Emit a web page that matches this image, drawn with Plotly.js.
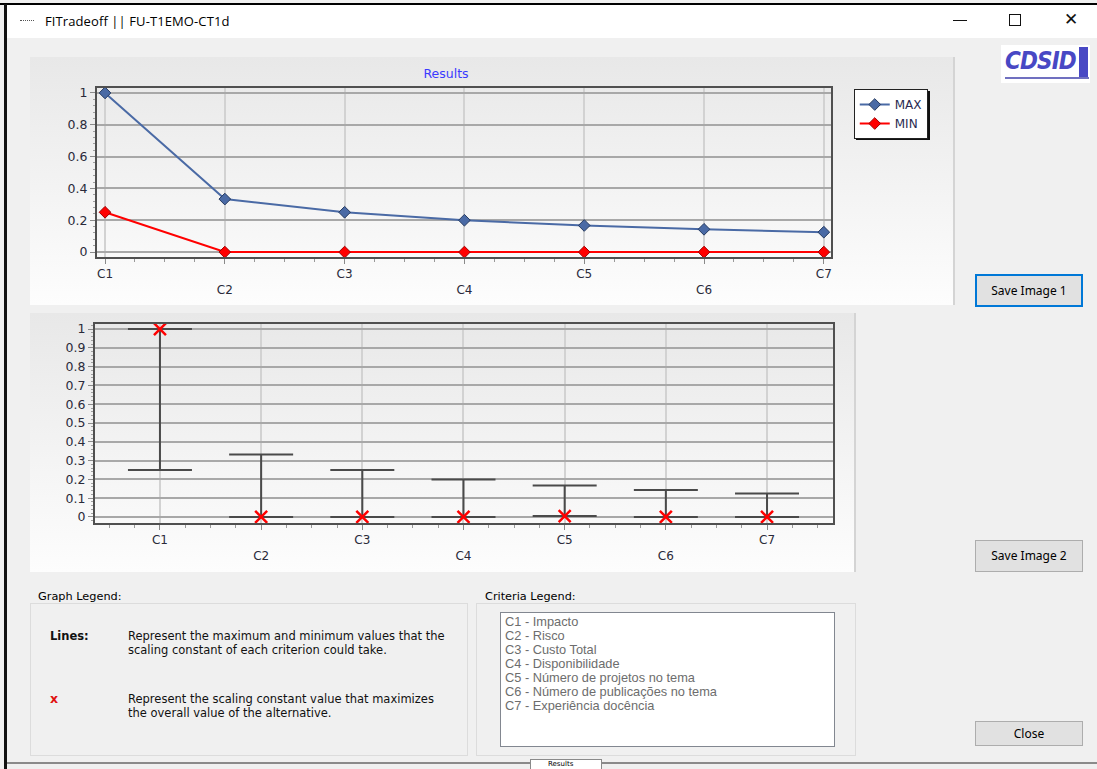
<!DOCTYPE html>
<html>
<head>
<meta charset="utf-8">
<script src="https://cdn.plot.ly/plotly-3.0.1.min.js"></script>
<style>
  html, body { margin:0; padding:0; width:1097px; height:769px; overflow:hidden; background:#fff; }
  #win { position:absolute; left:0; top:0; width:1097px; height:769px; background:#f0f0f0; }
  .abs { position:absolute; }
  #topline { left:0; top:3px; width:1097px; height:2px; background:#000; }
  #leftline { left:4px; top:4px; width:3px; height:765px; background:#111; }
  #titlebar { left:7px; top:5px; width:1090px; height:33px; background:#fff; }
  #titletext { left:45px; top:12px; font-family:"Open Sans", "Noto Sans", sans-serif; font-size:13px; color:#000; letter-spacing:0.1px; }
  #icon { left:20px; top:20px; width:14px; border-top:1px dotted #555; }
  .wbtn { font-family:"DejaVu Sans", sans-serif; color:#111; }
  #panel1 { left:30px; top:57px; width:923px; height:248px; background:linear-gradient(#e8e8e8, #fdfdfd); border-right:2px solid #d4d4d4; }
  #panel2 { left:30px; top:313px; width:824px; height:259px; background:linear-gradient(#e8e8e8, #fdfdfd); border-right:2px solid #d4d4d4; }
  .btn { position:absolute; left:975px; width:108px; background:#e1e1e1; border:1px solid #adadad; font-family:"Noto Sans", sans-serif; font-size:12px; color:#000; text-align:center; box-sizing:border-box; }
  .group { position:absolute; border:1px solid #dcdcdc; box-sizing:border-box; }
  .glabel { position:absolute; background:#f0f0f0; font-family:"DejaVu Sans", sans-serif; font-size:11.3px; color:#000; padding:0 1px; }
  .ltext { position:absolute; font-family:"DejaVu Sans", sans-serif; font-size:11.5px; color:#111; line-height:14px; }
  #list { left:500px; top:612px; width:335px; height:135px; background:#fff; border:1px solid #828790; box-sizing:border-box; }
  #list div { font-family:"Liberation Sans", sans-serif; font-size:12.8px; color:#6d6d6d; line-height:14px; padding-left:4px; white-space:nowrap; }
</style>
</head>
<body>
<div id="win">
  <div class="abs" id="topline"></div>
  <div class="abs" id="titlebar"></div>
  <div class="abs" id="leftline"></div>
  <div class="abs" id="icon"></div>
  <div class="abs" id="titletext">FITradeoff || FU-T1EMO-CT1d</div>
  <div class="abs wbtn" style="left:953px;top:20px;width:14px;height:1px;background:#111;"></div>
  <div class="abs" style="left:1009px;top:14px;width:10px;height:10px;border:1px solid #111;"></div>
  <div class="abs wbtn" style="left:1064px;top:9px;font-size:17px;">✕</div>

  <div class="abs" style="left:1001px;top:45px;width:89px;height:38px;background:#fff;"></div>
  <div class="abs" style="left:1005px;top:47px;font-family:'DejaVu Sans',sans-serif;font-weight:bold;font-style:italic;font-size:24px;letter-spacing:-1px;color:#4848c4;transform:scaleX(0.9);transform-origin:left;">CDSID</div>
  <div class="abs" style="left:1079px;top:47px;width:9px;height:30px;background:#4848c4;"></div>
  <div class="abs" style="left:1005px;top:77px;width:84px;height:2px;background:#7070c0;"></div>

  <div class="abs" id="panel1">
    <div class="abs" style="left:826px;top:34px;width:74px;height:49px;background:#111;"></div>
    <div id="chart1" class="abs" style="left:0;top:0;width:923px;height:248px;"></div>
  </div>
  <div class="abs" id="panel2"><div id="chart2" style="width:824px;height:259px;"></div></div>

  <div class="btn" style="top:274px;height:33px;line-height:29px;border:2px solid #0078d7;">Save Image 1</div>
  <div class="btn" style="top:540px;height:32px;line-height:30px;">Save Image 2</div>
  <div class="btn" style="top:721px;height:25px;line-height:23px;">Close</div>

  <div class="group" style="left:30px;top:603px;width:438px;height:153px;"></div>
  <div class="glabel" style="left:37px;top:590px;">Graph Legend:</div>
  <div class="ltext" style="left:50px;top:629px;font-weight:bold;">Lines:</div>
  <div class="ltext" style="left:128px;top:629px;">Represent the maximum and minimum values that the<br>scaling constant of each criterion could take.</div>
  <div class="ltext" style="left:50px;top:692px;font-weight:bold;color:#e01010;font-size:12.5px;">x</div>
  <div class="ltext" style="left:128px;top:692px;">Represent the scaling constant value that maximizes<br>the overall value of the alternative.</div>

  <div class="group" style="left:476px;top:603px;width:380px;height:153px;"></div>
  <div class="glabel" style="left:484px;top:590px;">Criteria Legend:</div>
  <div class="abs" id="list"></div>

  <div class="abs" style="left:7px;top:762px;width:1090px;height:2px;background:#8a8a8a;"></div>
  <div class="abs" style="left:530px;top:759px;width:70px;height:12px;background:#fff;border:1px solid #8a8a8a;border-bottom:none;"></div>
  <div class="abs" style="left:548px;top:760px;font-family:'DejaVu Sans',sans-serif;font-size:7px;line-height:8px;">Results</div>
</div>

<script>
// ---- data ----
const categories = ['C1', 'C2', 'C3', 'C4', 'C5', 'C6', 'C7'];
const criteriaNames = ['Impacto', 'Risco', 'Custo Total', 'Disponibilidade',
  'Número de projetos no tema', 'Número de publicações no tema', 'Experiência docência'];
const maxValues = [1, 0.333, 0.25, 0.2, 0.167, 0.143, 0.125];
const minValues = [0.25, 0, 0, 0, 0, 0, 0];
const rangeMax = [1, 0.333, 0.25, 0.2, 0.167, 0.143, 0.125];
const rangeMin = [0.25, 0, 0, 0, 0.005, 0, 0];
const bestValues = [1, 0, 0, 0, 0.005, 0, 0];
const yTicksTop = [0, 0.2, 0.4, 0.6, 0.8, 1];
const yTicksBottom = [0, 0.1, 0.2, 0.3, 0.4, 0.5, 0.6, 0.7, 0.8, 0.9, 1];

// criteria list
const list = document.getElementById('list');
list.style.paddingTop = '2px';
categories.forEach((c, i) => {
  const d = document.createElement('div');
  d.textContent = c + ' - ' + criteriaNames[i];
  list.appendChild(d);
});

const idx = categories.map((c, i) => i);
const tickText = categories.map((c, i) => (i % 2 ? '<br>' + c : c));
const FONT = 'DejaVu Sans, Verdana, sans-serif';

function xaxis(range) {
  return {
    range: range, tickmode: 'array', tickvals: idx, ticktext: tickText,
    showgrid: true, gridcolor: '#d2d2d2', gridwidth: 2, zeroline: false,
    ticks: 'outside', ticklen: 5, tickcolor: '#8a8a8a', tickwidth: 1,
    minor: { dtick: 0.25, ticks: 'outside', ticklen: 3, tickcolor: '#9a9a9a', showgrid: false },
    showline: true, linecolor: '#505050', linewidth: 2, mirror: true,
    tickfont: { family: FONT, size: 12, color: '#2a2a3a' }, fixedrange: true
  };
}
function yaxis(range, vals, minorStep) {
  return {
    range: range, tickmode: 'array', tickvals: vals, ticktext: vals.map(v => String(v)),
    showgrid: true, gridcolor: '#a8a8a8', gridwidth: 2, zeroline: false,
    ticks: 'outside', ticklen: 5, tickcolor: '#8a8a8a', tickwidth: 1,
    minor: { dtick: minorStep, ticks: 'outside', ticklen: 2, tickcolor: '#a0a0a0', showgrid: false },
    showline: true, linecolor: '#505050', linewidth: 2, mirror: true,
    tickfont: { family: FONT, size: 12.5, color: '#2a2a3a' }, fixedrange: true
  };
}

// ---- chart 1 ----
const t1 = [
  { x: idx, y: maxValues, name: 'MAX', type: 'scatter', mode: 'lines+markers', cliponaxis: false,
    line: { color: '#4a6aa5', width: 2 },
    marker: { symbol: 'diamond', size: 9, color: '#4a6aa5', line: { color: '#253a60', width: 1 } } },
  { x: idx, y: minValues, name: 'MIN', type: 'scatter', mode: 'lines+markers', cliponaxis: false,
    line: { color: '#ff0000', width: 2 },
    marker: { symbol: 'diamond', size: 9, color: '#ff0000', line: { color: '#a00000', width: 1 } } }
];
const l1 = {
  width: 923, height: 248,
  margin: { l: 67, r: 122, t: 31, b: 48 },
  paper_bgcolor: 'rgba(0,0,0,0)', plot_bgcolor: 'rgba(0,0,0,0)',
  title: { text: 'Results', x: 416 / 923, xanchor: 'center', y: 1 - 17 / 248, yanchor: 'middle',
    font: { family: FONT, size: 12.5, color: '#3a3aff' } },
  xaxis: xaxis([-0.067, 6.06]),
  yaxis: yaxis([-0.031, 1.031], yTicksTop, 0.04),
  showlegend: true,
  legend: { x: 1.031, xanchor: 'left', y: 0.994, yanchor: 'top', bgcolor: '#ffffff',
    bordercolor: '#222', borderwidth: 1, itemwidth: 30, tracegroupgap: 0,
    font: { family: FONT, size: 12, color: '#2a2a50' } }
};
Plotly.newPlot('chart1', t1, l1, { staticPlot: true, displayModeBar: false });

// ---- chart 2 ----
const t2 = [
  { x: idx, y: bestValues, type: 'scatter', mode: 'markers', cliponaxis: false, showlegend: false,
    error_y: { type: 'data', symmetric: false,
      array: rangeMax.map((v, i) => v - bestValues[i]),
      arrayminus: rangeMin.map((v, i) => bestValues[i] - v),
      color: '#4a4a4a', thickness: 2, width: 32 },
    marker: { symbol: 'x-thin-open', size: 12, color: '#ff0000', line: { color: '#ff0000', width: 2.5 } } }
];
const l2 = {
  width: 824, height: 259,
  margin: { l: 65, r: 21, t: 11, b: 49 },
  paper_bgcolor: 'rgba(0,0,0,0)', plot_bgcolor: 'rgba(0,0,0,0)',
  xaxis: xaxis([-0.642, 6.652]),
  yaxis: yaxis([-0.032, 1.027], yTicksBottom, 0.02),
  showlegend: false
};
Plotly.newPlot('chart2', t2, l2, { staticPlot: true, displayModeBar: false });
</script>
</body>
</html>
